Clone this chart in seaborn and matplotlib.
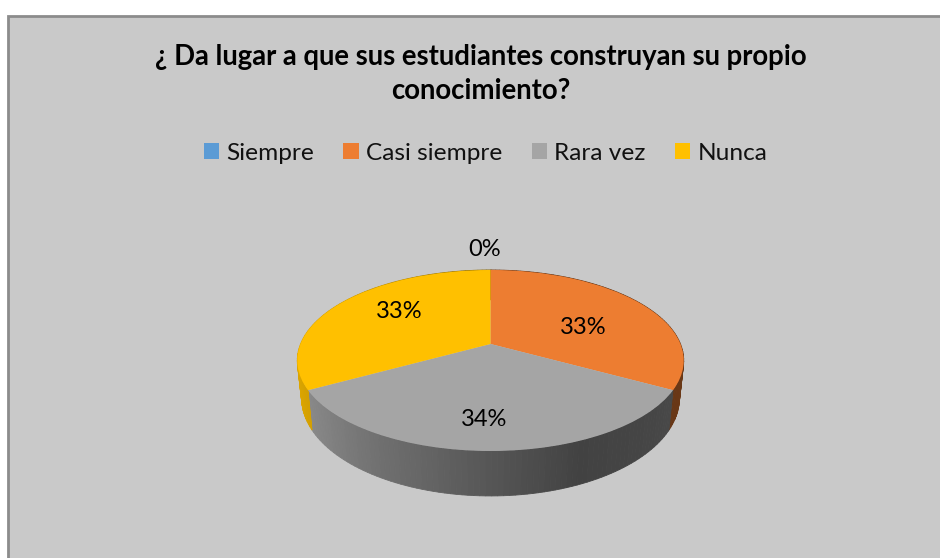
import numpy as np
import matplotlib
matplotlib.use("Agg")
import matplotlib.pyplot as plt
from matplotlib.patches import Rectangle
from matplotlib.transforms import Transform
import seaborn as sns

title = "¿ Da lugar a que sus estudiantes construyan su propio\nconocimiento?"
categories = ["Siempre", "Casi siempre", "Rara vez", "Nunca"]
values = [0, 33, 34, 33]
colors = ["#5B9BD5", "#ED7D31", "#A5A5A5", "#FFC000"]

sns.set_theme(style="white")
plt.rcParams["font.family"] = ["Lato", "DejaVu Sans"]

# where the pie sits, in pixels of the 940x558 picture
apex_x, apex_y = 490.5, 344
scale_x, scale_y, tilt = 190, 87.5, 0.182
# the lower rim of the wall is a bit narrower and pushed down
rim_sx, rim_sy, rim_dy = 0.978, 1.084, 36

# how dark the wall gets from left to right
shade_u = [-1.0, -0.5, 0.0, 0.4, 0.7, 1.0]
shade_v = [0.88, 0.68, 0.52, 0.40, 0.42, 0.45]


class TiltedPie(Transform):
    """Flat pie coordinates -> picture pixels, with some perspective."""
    input_dims = 2
    output_dims = 2

    def transform_non_affine(self, values):
        xy = np.asarray(values, dtype=float)
        d = 1 + tilt * xy[:, 1]
        return np.column_stack([apex_x + scale_x * xy[:, 0] / d,
                                apex_y - scale_y * xy[:, 1] / d])


fig, ax = plt.subplots(figsize=(9.4, 5.58), dpi=100)
fig.patch.set_facecolor("white")
ax.set_position([0, 0, 1, 1])

wedges, _ = ax.pie(values, colors=colors, startangle=90, counterclock=False,
                   wedgeprops={"linewidth": 0})
ax.set_aspect("auto")
ax.set_xlim(0, 940)
ax.set_ylim(558, 0)
ax.axis("off")

ax.add_patch(Rectangle((8, 16), 960, 570, facecolor="#C9C9C9",
                       edgecolor="#8C8C8C", linewidth=2, zorder=0))

tilted = TiltedPie()
for wedge, color in zip(wedges, colors):
    wedge.set_transform(tilted + ax.transData)
    wedge.set_zorder(3)
    if wedge.theta2 - wedge.theta1 < 0.01:
        continue
    # side wall, small steps so it can carry the shading
    steps = np.deg2rad(np.arange(wedge.theta1, wedge.theta2 + 1.5, 1.5))
    steps = np.minimum(steps, np.deg2rad(wedge.theta2))
    top = tilted.transform(np.column_stack([np.cos(steps), np.sin(steps)]))
    low = np.column_stack([apex_x + (top[:, 0] - apex_x) * rim_sx,
                           apex_y + (top[:, 1] - apex_y) * rim_sy + rim_dy])
    base = np.array(matplotlib.colors.to_rgb(color))
    for i in range(len(steps) - 1):
        u = (np.cos(steps[i]) + np.cos(steps[i + 1])) / 2
        shade = base * np.interp(u, shade_u, shade_v)
        ax.fill([top[i, 0], top[i + 1, 0], low[i + 1, 0], low[i, 0]],
                [top[i, 1], top[i + 1, 1], low[i + 1, 1], low[i, 1]],
                color=shade, linewidth=0.6, zorder=2)

# percent labels
label_pos = [(485, 250), (583, 327), (484, 420), (399, 311)]
for (lx, ly), val in zip(label_pos, values):
    ax.text(lx, ly, f"{val}%", ha="center", va="center", fontsize=17,
            color="black", zorder=5)

ax.text(481, 74, title, ha="center", va="center", fontsize=19.8,
        fontweight="bold", color="black", linespacing=1.42, zorder=5)

ax.legend(wedges, categories, loc="center", bbox_to_anchor=(485.5 / 940, 1 - 153 / 558),
          ncols=4, frameon=False, fontsize=17.6, labelcolor="#111111",
          handlelength=0.62, handleheight=0.62,
          handletextpad=0.3, columnspacing=1.2, borderpad=0)

fig.savefig("out.png", dpi=100)
